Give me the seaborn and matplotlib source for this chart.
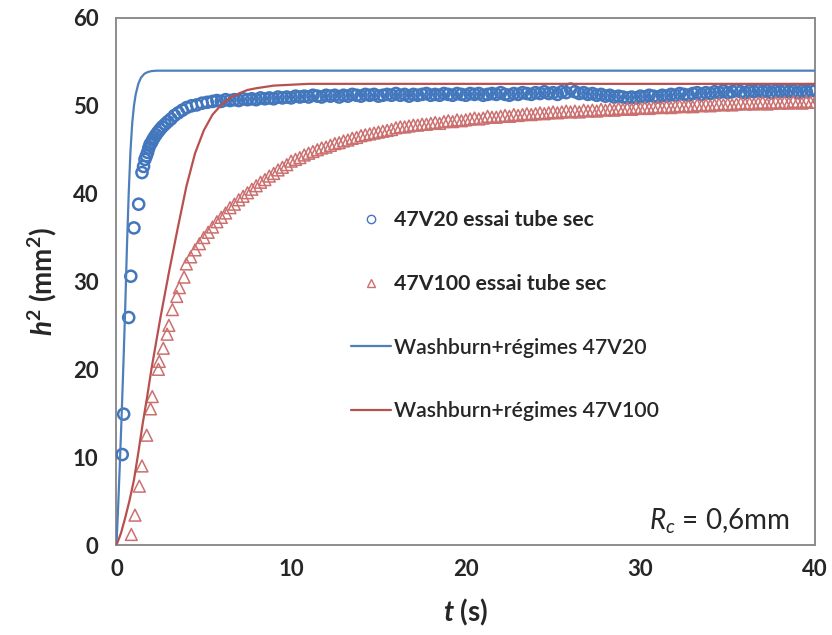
import matplotlib
matplotlib.use("Agg")
import matplotlib.pyplot as plt
from matplotlib.lines import Line2D
from matplotlib.ticker import MultipleLocator
import pandas as pd
import seaborn as sns

# ---- measured capillary rise, 47V20 oil (dry tube) ----
t_v20 = [0.33, 0.41, 0.70, 0.82, 1.00, 1.27, 1.46, 1.55, 1.63, 1.71,
         1.78, 1.85, 1.92, 2.00, 2.07, 2.16, 2.26, 2.37, 2.49, 2.62,
         2.78, 2.94, 3.12, 3.32, 3.54, 3.77, 4.02, 4.30, 4.59, 4.90,
         5.20,
         5.5, 5.75, 6.0, 6.25, 6.5, 6.75, 7.0, 7.25,
         7.5, 7.75, 8.0, 8.25, 8.5, 8.75, 9.0, 9.25,
         9.5, 9.75, 10.0, 10.25, 10.5, 10.75, 11.0, 11.25,
         11.5, 11.75, 12.0, 12.25, 12.5, 12.75, 13.0, 13.25,
         13.5, 13.75, 14.0, 14.25, 14.5, 14.75, 15.0, 15.25,
         15.5, 15.75, 16.0, 16.25, 16.5, 16.75, 17.0, 17.25,
         17.5, 17.75, 18.0, 18.25, 18.5, 18.75, 19.0, 19.25,
         19.5, 19.75, 20.0, 20.25, 20.5, 20.75, 21.0, 21.25,
         21.5, 21.75, 22.0, 22.25, 22.5, 22.75, 23.0, 23.25,
         23.5, 23.75, 24.0, 24.25, 24.5, 24.75, 25.0, 25.25,
         25.5, 25.75, 26.0, 26.25, 26.5, 26.75, 27.0, 27.25,
         27.5, 27.75, 28.0, 28.25, 28.5, 28.75, 29.0, 29.25,
         29.5, 29.75, 30.0, 30.25, 30.5, 30.75, 31.0, 31.25,
         31.5, 31.75, 32.0, 32.25, 32.5, 32.75, 33.0, 33.25,
         33.5, 33.75, 34.0, 34.25, 34.5, 34.75, 35.0, 35.25,
         35.5, 35.75, 36.0, 36.25, 36.5, 36.75, 37.0, 37.25,
         37.5, 37.75, 38.0, 38.25, 38.5, 38.75, 39.0, 39.25,
         39.5, 39.75, 40.0]
h2_v20 = [10.3, 14.9, 25.9, 30.6, 36.1, 38.8, 42.4, 43.1, 43.9, 44.3,
          44.7, 45.2, 45.6, 45.8, 46.1, 46.4, 46.7, 47.0, 47.3, 47.6,
          47.9, 48.2, 48.5, 48.9, 49.2, 49.5, 49.8, 50.0, 50.1, 50.3,
          50.4,
          50.5, 50.6, 50.5, 50.7, 50.6, 50.7, 50.6, 50.8,
          50.7, 50.8, 50.7, 50.9, 50.8, 50.9, 50.8, 51.0,
          50.9, 51.0, 50.9, 51.1, 51.0, 51.1, 51.0, 51.2,
          51.1, 51.0, 51.2, 51.1, 51.2, 51.0, 51.2, 51.1,
          51.3, 51.2, 51.1, 51.3, 51.2, 51.3, 51.1, 51.2,
          51.3, 51.2, 51.4, 51.2, 51.3, 51.1, 51.3, 51.2,
          51.3, 51.4, 51.2, 51.3, 51.2, 51.4, 51.3, 51.2,
          51.4, 51.3, 51.2, 51.4, 51.3, 51.4, 51.2, 51.3,
          51.4, 51.3, 51.5, 51.3, 51.2, 51.4, 51.3, 51.5,
          51.4, 51.3, 51.5, 51.4, 51.6, 51.4, 51.5, 51.3,
          51.6, 51.5, 51.9, 51.6, 51.4, 51.5, 51.3, 51.4,
          51.2, 51.3, 51.1, 51.2, 51.0, 51.1, 51.0, 50.9,
          51.0, 50.9, 51.1, 51.0, 51.2, 51.1, 51.0, 51.2,
          51.1, 51.3, 51.2, 51.4, 51.3, 51.2, 51.4, 51.5,
          51.3, 51.5, 51.4, 51.6, 51.5, 51.7, 51.5, 51.6,
          51.8, 51.6, 51.5, 51.7, 51.6, 51.8, 51.6, 51.7,
          51.5, 51.7, 51.6, 51.8, 51.6, 51.7, 51.5, 51.7,
          51.6, 51.8, 51.7]

# ---- measured capillary rise, 47V100 oil (dry tube) ----
t_v100 = [0.85, 1.06, 1.31, 1.46, 1.73, 1.95, 2.05, 2.40, 2.45, 2.68,
          2.90, 3.00, 3.20, 3.45, 3.60, 3.87,
          4.0, 4.25, 4.5, 4.75, 5.0, 5.25, 5.5, 5.75,
          6.0, 6.25, 6.5, 6.75, 7.0, 7.25, 7.5, 7.75,
          8.0, 8.25, 8.5, 8.75, 9.0, 9.25, 9.5, 9.75,
          10.0, 10.25, 10.5, 10.75, 11.0, 11.25, 11.5, 11.75,
          12.0, 12.25, 12.5, 12.75, 13.0, 13.25, 13.5, 13.75,
          14.0, 14.25, 14.5, 14.75, 15.0, 15.25, 15.5, 15.75,
          16.0, 16.25, 16.5, 16.75, 17.0, 17.25, 17.5, 17.75,
          18.0, 18.25, 18.5, 18.75, 19.0, 19.25, 19.5, 19.75,
          20.0, 20.25, 20.5, 20.75, 21.0, 21.25, 21.5, 21.75,
          22.0, 22.25, 22.5, 22.75, 23.0, 23.25, 23.5, 23.75,
          24.0, 24.25, 24.5, 24.75, 25.0, 25.25, 25.5, 25.75,
          26.0, 26.25, 26.5, 26.75, 27.0, 27.25, 27.5, 27.75,
          28.0, 28.25, 28.5, 28.75, 29.0, 29.25, 29.5, 29.75,
          30.0, 30.25, 30.5, 30.75, 31.0, 31.25, 31.5, 31.75,
          32.0, 32.25, 32.5, 32.75, 33.0, 33.25, 33.5, 33.75,
          34.0, 34.25, 34.5, 34.75, 35.0, 35.25, 35.5, 35.75,
          36.0, 36.25, 36.5, 36.75, 37.0, 37.25, 37.5, 37.75,
          38.0, 38.25, 38.5, 38.75, 39.0, 39.25, 39.5, 39.75,
          40.0]
h2_v100 = [1.2, 3.4, 6.7, 9.0, 12.5, 15.5, 16.9, 20.0, 20.9, 22.4,
           24.0, 25.0, 26.8, 28.3, 29.3, 30.5,
           32.0, 32.8, 33.6, 34.3, 35.0, 35.6, 36.2, 36.8,
           37.3, 37.8, 38.4, 38.8, 39.3, 39.7, 40.1, 40.5,
           40.9, 41.3, 41.6, 42.0, 42.3, 42.7, 43.0, 43.3,
           43.7, 43.9, 44.1, 44.4, 44.6, 44.8, 45.0, 45.2,
           45.3, 45.5, 45.7, 45.8, 46.0, 46.1, 46.3, 46.4,
           46.6, 46.7, 46.8, 46.9, 47.0, 47.1, 47.2, 47.3,
           47.5, 47.6, 47.6, 47.7, 47.8, 47.8, 47.9, 47.9,
           48.0, 48.1, 48.0, 48.2, 48.3, 48.2, 48.4, 48.3,
           48.4, 48.5, 48.6, 48.5, 48.6, 48.8, 48.7, 48.7,
           48.8, 48.9, 48.8, 49.0, 48.9, 49.0, 49.1, 49.0,
           49.1, 49.2, 49.1, 49.2, 49.3, 49.2, 49.3, 49.4,
           49.3, 49.4, 49.3, 49.5, 49.4, 49.5, 49.4, 49.6,
           49.5, 49.6, 49.5, 49.7, 49.6, 49.7, 49.6, 49.8,
           49.7, 49.8, 49.7, 49.8, 49.9, 49.8, 49.9, 49.8,
           49.9, 50.0, 49.9, 50.0, 49.9, 50.1, 50.0, 50.1,
           50.0, 50.1, 50.2, 50.1, 50.2, 50.1, 50.2, 50.3,
           50.2, 50.3, 50.2, 50.3, 50.4, 50.2, 50.3, 50.4,
           50.3, 50.4, 50.3, 50.5, 50.4, 50.3, 50.5, 50.4,
           50.4]

# ---- Washburn + regimes model curves ----
t_model_v20 = [0, 0.1, 0.2, 0.3, 0.4, 0.5, 0.6, 0.7, 0.8, 0.9, 1.0,
               1.1, 1.25, 1.4, 1.6, 1.8, 2.0, 2.3, 2.6, 3.0, 40.0]
h2_model_v20 = [0, 4.6, 9.6, 15.0, 20.8, 27.0, 34.0, 40.0, 44.8, 48.0, 50.0,
                51.3, 52.5, 53.2, 53.65, 53.85, 53.95, 54.0, 54.0, 54.0, 54.0]

t_model_v100 = [0, 0.25, 0.5, 0.75, 1.0, 1.25, 1.5, 1.75, 2.0, 2.5, 3.0,
                3.5, 4.0, 4.5, 5.0, 5.5, 6.0, 6.5, 7.0, 7.5, 8.0, 9.0,
                10.0, 11.0, 12.0, 14.0, 40.0]
h2_model_v100 = [0, 1.3, 3.1, 5.1, 7.4, 10.5, 13.8, 16.8, 20.0, 25.7, 31.0,
                 36.0, 40.8, 44.6, 47.2, 49.0, 50.1, 50.9, 51.4, 51.8, 52.0, 52.3,
                 52.4, 52.5, 52.5, 52.5, 52.5]

labels = ["47V20 essai tube sec", "47V100 essai tube sec",
          "Washburn+régimes 47V20", "Washburn+régimes 47V100"]

BLUE = "#4277bd"
RED = "#cc6f6f"
BLUE_LINE = "#4f7fbb"
RED_LINE = "#b8504f"
GREY = "#8c8c8c"
TEXT = "#262626"

sns.set_style("white")
plt.rcParams["font.family"] = ["Lato", "DejaVu Sans"]
plt.rcParams["mathtext.fontset"] = "custom"
plt.rcParams["mathtext.rm"] = "Lato"
plt.rcParams["mathtext.it"] = "Lato:italic"
plt.rcParams["mathtext.bf"] = "Lato:bold"
plt.rcParams["mathtext.bfit"] = "Lato:italic:bold"

fig = plt.figure(figsize=(8.32, 6.35), dpi=100)
ax = fig.add_axes([0.140, 0.1417, 0.8396, 0.8300])

df_v20 = pd.DataFrame({"t": t_v20, "h2": h2_v20})
df_v100 = pd.DataFrame({"t": t_v100, "h2": h2_v100})
df_m20 = pd.DataFrame({"t": t_model_v20, "h2": h2_model_v20})
df_m100 = pd.DataFrame({"t": t_model_v100, "h2": h2_model_v100})

sns.scatterplot(data=df_v20, x="t", y="h2", ax=ax, marker="o", s=64,
                facecolor="none", edgecolor=BLUE, linewidth=1.8, zorder=3)
sns.scatterplot(data=df_v100, x="t", y="h2", ax=ax, marker="^", s=72,
                facecolor="none", edgecolor=RED, linewidth=1.1, zorder=3)
sns.lineplot(data=df_m20, x="t", y="h2", ax=ax, color=BLUE_LINE, lw=1.6,
             estimator=None, sort=False, zorder=4)
sns.lineplot(data=df_m100, x="t", y="h2", ax=ax, color=RED_LINE, lw=1.6,
             estimator=None, sort=False, zorder=4)

ax.set_xlim(0, 40)
ax.set_ylim(0, 60)
ax.xaxis.set_major_locator(MultipleLocator(10))
ax.xaxis.set_minor_locator(MultipleLocator(2))
ax.yaxis.set_major_locator(MultipleLocator(10))
ax.yaxis.set_minor_locator(MultipleLocator(2))

for side in ax.spines.values():
    side.set_color(GREY)
    side.set_linewidth(1.4)

ax.tick_params(axis="x", which="major", direction="inout", length=12,
               width=1.2, color=GREY, labelsize=16, labelcolor=TEXT, pad=4)
ax.tick_params(axis="y", which="major", direction="out", length=7,
               width=1.2, color=GREY, labelsize=16, labelcolor=TEXT, pad=6)
ax.tick_params(which="minor", direction="in", length=5, width=1.0, color=GREY)
for lab in ax.get_xticklabels() + ax.get_yticklabels():
    lab.set_fontweight("bold")

ax.set_xlabel(r"$\mathbfit{t}$ (s)", fontsize=20, fontweight="bold",
              color=TEXT, labelpad=12)
ax.set_ylabel(r"$\mathbfit{h}^{\mathbf{2}}$ (mm$^{\mathbf{2}}$)", fontsize=20,
              fontweight="bold", color=TEXT, labelpad=10)

ax.text(0.964, 0.03, r"$R_c$ = 0,6mm", transform=ax.transAxes, ha="right",
        va="baseline", fontsize=20, color=TEXT)

handles = [
    Line2D([], [], ls="", marker="o", ms=6, mfc="none", mec=BLUE, mew=1.0),
    Line2D([], [], ls="", marker="^", ms=6, mfc="none", mec=RED, mew=1.0),
    Line2D([], [], color=BLUE_LINE, lw=1.6),
    Line2D([], [], color=RED_LINE, lw=1.6),
]
leg = ax.legend(handles, labels, loc="center", bbox_to_anchor=(0.556, 0.435),
                frameon=False, fontsize=15.3, labelspacing=2.05,
                handlelength=1.9, handletextpad=0.1)
for i, txt in enumerate(leg.get_texts()):
    txt.set_color(TEXT)
    txt.set_fontweight("bold" if i < 2 else "semibold")

fig.savefig("out.png", dpi=100)
